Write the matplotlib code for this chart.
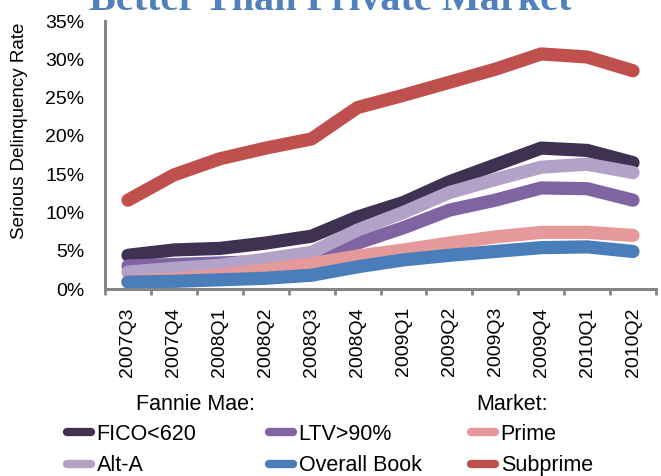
import matplotlib.pyplot as plt
from matplotlib.lines import Line2D
from matplotlib.ticker import FixedLocator, FuncFormatter

plt.rcParams['font.family'] = ['Liberation Sans', 'DejaVu Sans']

quarters = ['2007Q3', '2007Q4', '2008Q1', '2008Q2', '2008Q3', '2008Q4',
            '2009Q1', '2009Q2', '2009Q3', '2009Q4', '2010Q1', '2010Q2']

# serious delinquency rate, percent
fico_620 = [4.4, 5.1, 5.3, 6.0, 6.9, 9.4, 11.3, 14.0, 16.2, 18.4, 18.1, 16.5]
ltv_90 = [3.0, 3.2, 3.4, 3.6, 4.3, 6.0, 8.0, 10.3, 11.6, 13.2, 13.1, 11.6]
alt_a = [2.2, 2.7, 3.1, 3.9, 4.8, 7.7, 10.0, 12.6, 14.3, 15.9, 16.3, 15.2]
prime = [1.0, 1.3, 1.8, 2.5, 3.3, 4.3, 5.1, 6.0, 6.8, 7.4, 7.4, 7.0]
overall_book = [0.9, 1.0, 1.2, 1.4, 1.8, 2.9, 3.8, 4.4, 4.9, 5.4, 5.5, 4.9]
subprime = [11.6, 14.9, 17.0, 18.4, 19.6, 23.7, 25.3, 27.0, 28.7, 30.7, 30.3, 28.5]

colors = {'FICO<620': '#3f3151', 'LTV>90%': '#8064a2', 'Alt-A': '#b3a2c7',
          'Prime': '#e6999a', 'Overall Book': '#4a7ebb', 'Subprime': '#c0504d'}

fig = plt.figure(figsize=(6.61, 4.76), dpi=100)
ax = fig.add_axes([105 / 661, 1 - 289 / 476, 551 / 661, 268 / 476])

x = list(range(len(quarters)))
series = [('FICO<620', fico_620), ('LTV>90%', ltv_90), ('Alt-A', alt_a),
          ('Prime', prime), ('Overall Book', overall_book), ('Subprime', subprime)]
for name, vals in series:
    ax.plot(x, vals, color=colors[name], lw=9.5, solid_capstyle='round',
            solid_joinstyle='round', label=name)

ax.set_xlim(-0.5, len(quarters) - 0.5)
ax.set_ylim(0, 35)
ax.set_yticks(range(0, 36, 5))
ax.yaxis.set_major_formatter(FuncFormatter(lambda v, p: '%d%%' % v))
ax.set_xticks(x)
ax.set_xticklabels(quarters, rotation=90)
ax.xaxis.set_minor_locator(FixedLocator([i - 0.5 for i in range(len(quarters) + 1)]))

for s in ['top', 'right']:
    ax.spines[s].set_visible(False)
for s in ['left', 'bottom']:
    ax.spines[s].set_color('#868686')
    ax.spines[s].set_linewidth(2.2)

ax.tick_params(axis='y', length=0, pad=15, labelsize=14)
ax.tick_params(axis='x', which='major', length=0, pad=13, labelsize=14)
ax.tick_params(axis='x', which='minor', length=4, width=2, color='#868686')

fig.text(20 / 661, 1 - 131 / 476, 'Serious Delinquency Rate', rotation=90,
         ha='center', va='center', fontsize=13.5)

# title, mostly cropped off the top
fig.text(330 / 661, 1 - 10 / 476, 'Better Than Private Market', ha='center',
         va='baseline', fontsize=29, fontweight='bold', color='#4f81bd',
         family=['Liberation Serif', 'DejaVu Serif'])

fig.text(195 / 661, 1 - 405 / 476, 'Fannie Mae:', ha='center', va='center', fontsize=15.5)
fig.text(512 / 661, 1 - 405 / 476, 'Market:', ha='center', va='center', fontsize=15.5)

columns = [(['FICO<620', 'Alt-A'], 67), (['LTV>90%', 'Overall Book'], 269),
           (['Prime', 'Subprime'], 471)]
for names, xpix in columns:
    handles = [Line2D([], [], color=colors[n], lw=6, solid_capstyle='round') for n in names]
    fig.legend(handles, names, loc='center left', bbox_to_anchor=(xpix / 661, 1 - 450 / 476),
               frameon=False, fontsize=15.5, handlelength=1.1, handletextpad=0.28,
               labelspacing=0.5, borderpad=0, borderaxespad=0)

fig.savefig('out.png', dpi=100)
